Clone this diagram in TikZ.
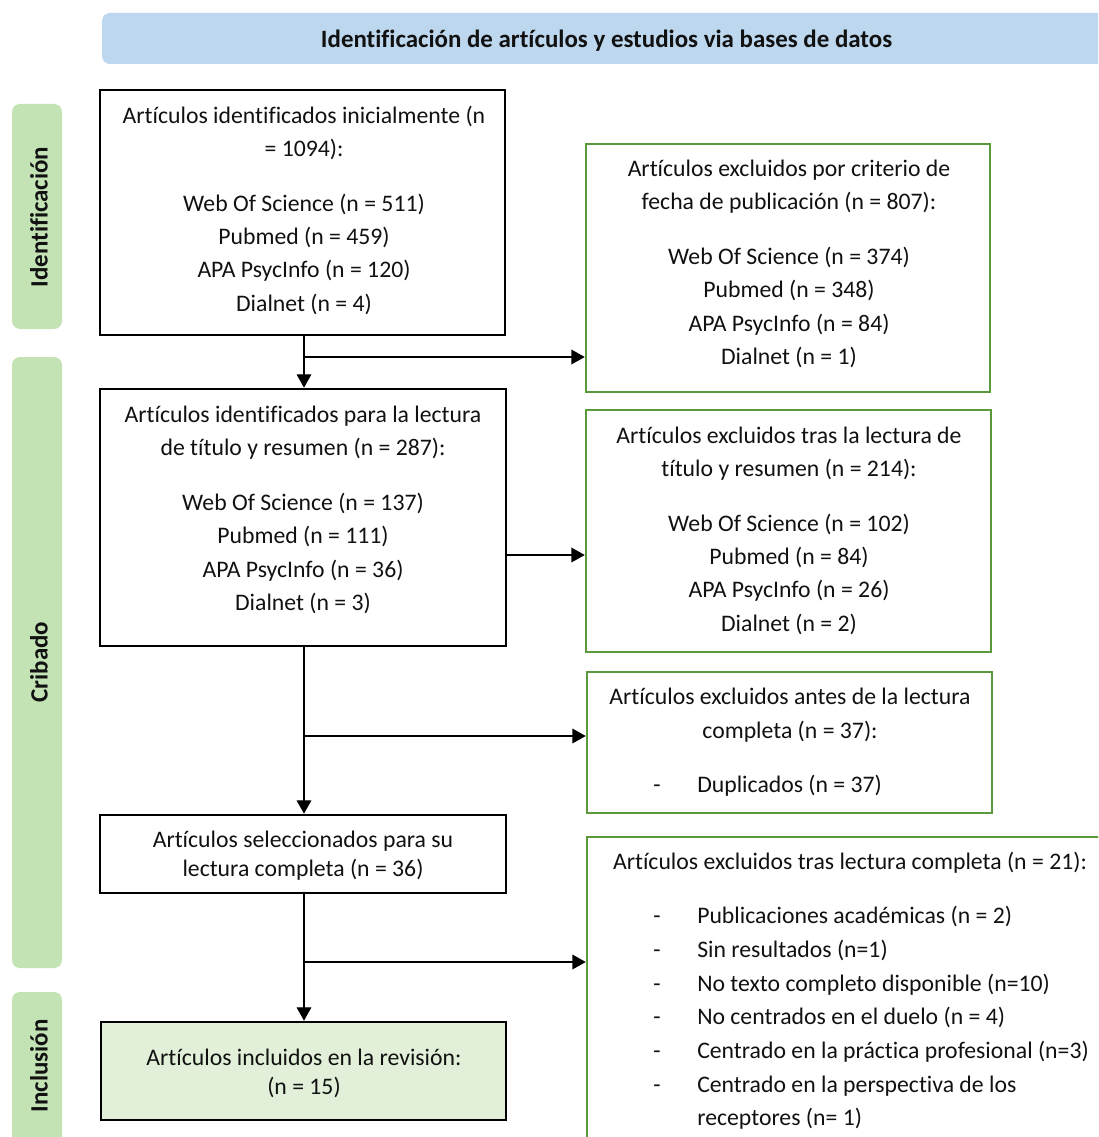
\documentclass[tikz,border=0pt]{standalone}
\usepackage{fontspec}
\setmainfont{Carlito}[Ligatures=NoCommon]
\usetikzlibrary{arrows.meta}
\definecolor{hdrblue}{HTML}{BDD7EE}
\definecolor{barGreen}{HTML}{C3E3B5}
\definecolor{inclFill}{HTML}{E2F0D9}
\definecolor{boxGreen}{HTML}{5B9A3C}
\definecolor{txtc}{HTML}{111111}
\begin{document}
\begin{tikzpicture}[x=0.75pt,y=-0.75pt,
  txt/.style={font=\fontsize{17.8}{25}\selectfont, align=center, inner sep=0, text=txtc},
  txtb/.style={font=\fontsize{17.8}{21.75}\selectfont, align=center, inner sep=0, text=txtc},
  lst/.style={font=\fontsize{17.8}{25.25}\selectfont, align=left, inner sep=0, anchor=west, text=txtc},
  hdrtxt/.style={font=\bfseries\fontsize{18.7}{20}\selectfont, text=txtc},
  blackbox/.style={draw=black, line width=2pt, inner sep=0},
  greenbox/.style={draw=boxGreen, line width=1.9pt, inner sep=0},
  sidebar/.style={fill=barGreen, rounded corners=6pt, inner sep=0, minimum width=37.5pt},
  arr/.style={line width=0.9pt, -{Triangle[length=10pt,width=11pt]}}]
\useasboundingbox (0,0) rectangle (1098,1137);
\clip (0,0) rectangle (1098,1137);

% header
\node[fill=hdrblue, rounded corners=6pt, inner sep=0, minimum width=756pt, minimum height=38.25pt] (hdr) at (606,38.5) {};
\node[hdrtxt] (hdrt) at (606.5,41) {Identificación de artículos y estudios via bases de datos};

% side bars
\node[sidebar, minimum height=168.75pt] (sbI) at (37,216.5) {};
\node[hdrtxt, rotate=90] (lbI) at (39,217) {Identificación};
\node[sidebar, minimum height=458.25pt] (sbC) at (37,662.5) {};
\node[hdrtxt, rotate=90] (lbC) at (39,662) {Cribado};
\node[sidebar, minimum height=118.5pt] (sbN) at (37,1071) {};
\node[hdrtxt, rotate=90] (lbN) at (39,1066) {Inclusión};

% boxes
\node[blackbox, minimum width=303.75pt, minimum height=183.75pt] (b1) at (302.5,212.5) {};
\node[greenbox, minimum width=303pt, minimum height=186pt] (g1) at (788,268) {};
\node[blackbox, minimum width=304.5pt, minimum height=192.75pt] (b2) at (303,517.5) {};
\node[greenbox, minimum width=303.75pt, minimum height=181.5pt] (g2) at (788.5,531) {};
\node[greenbox, minimum width=303.75pt, minimum height=105.75pt] (g3) at (789.5,742.5) {};
\node[blackbox, minimum width=304.5pt, minimum height=58.5pt] (b3) at (303,854) {};
\node[greenbox, minimum width=392.25pt, minimum height=234.75pt] (g4) at (848.5,993.5) {};
\node[blackbox, fill=inclFill, minimum width=303.75pt, minimum height=73.5pt] (b4) at (303.5,1071) {};

% texts
\node[txt] (t1) at (304,210) {Artículos identificados inicialmente (n\\ = 1094):\\[16pt]
Web Of Science (n = 511)\\ Pubmed (n = 459)\\ APA PsycInfo (n = 120)\\ Dialnet (n = 4)};
\node[txt] (tg1) at (789,264) {Artículos excluidos por criterio de\\ fecha de publicación (n = 807):\\[16pt]
Web Of Science (n = 374)\\ Pubmed (n = 348)\\ APA PsycInfo (n = 84)\\ Dialnet (n = 1)};
\node[txt] (t2) at (303,510) {Artículos identificados para la lectura\\ de título y resumen (n = 287):\\[16pt]
Web Of Science (n = 137)\\ Pubmed (n = 111)\\ APA PsycInfo (n = 36)\\ Dialnet (n = 3)};
\node[txt] (tg2) at (789,530.5) {Artículos excluidos tras la lectura de\\ título y resumen (n = 214):\\[16pt]
Web Of Science (n = 102)\\ Pubmed (n = 84)\\ APA PsycInfo (n = 26)\\ Dialnet (n = 2)};
\node[txt] (tg3) at (790,715) {Artículos excluidos antes de la lectura\\ completa (n = 37):};
\node[lst] (tg3b) at (653,786) {\makebox[33pt][l]{-}Duplicados (n = 37)};
\node[txtb] (t3) at (303,856) {Artículos seleccionados para su\\ lectura completa (n = 36)};
\node[txtb] (t4) at (304,1073.5) {Artículos incluidos en la revisión:\\ (n = 15)};
\node[txt] (tg4) at (850,863) {Artículos excluidos tras lectura completa (n = 21):};
\node[lst] (tg4b) at (653,1018) {\makebox[33pt][l]{-}Publicaciones académicas (n = 2)\\
\makebox[33pt][l]{-}Sin resultados (n=1)\\
\makebox[33pt][l]{-}No texto completo disponible (n=10)\\
\makebox[33pt][l]{-}No centrados en el duelo (n = 4)\\
\makebox[33pt][l]{-}Centrado en la práctica profesional (n=3)\\
\makebox[33pt][l]{-}Centrado en la perspectiva de los\\
\hspace*{33pt}receptores (n= 1)};

% connectors
\coordinate (j1) at (304,357);
\coordinate (j2) at (506,555);
\coordinate (j3) at (304,736);
\coordinate (j4) at (304,962);
\draw[arr] (j1 |- b1.south) -- (j1 |- b2.north);
\draw[arr] (j1) -- (j1 -| g1.west);
\draw[arr] (j2 -| b2.east) -- (j2 -| g2.west);
\draw[arr] (j3 |- b2.south) -- (j3 |- b3.north);
\draw[arr] (j3) -- (j3 -| g3.west);
\draw[arr] (j4 |- b3.south) -- (j4 |- b4.north);
\draw[arr] (j4) -- (j4 -| g4.west);
\end{tikzpicture}
\end{document}
